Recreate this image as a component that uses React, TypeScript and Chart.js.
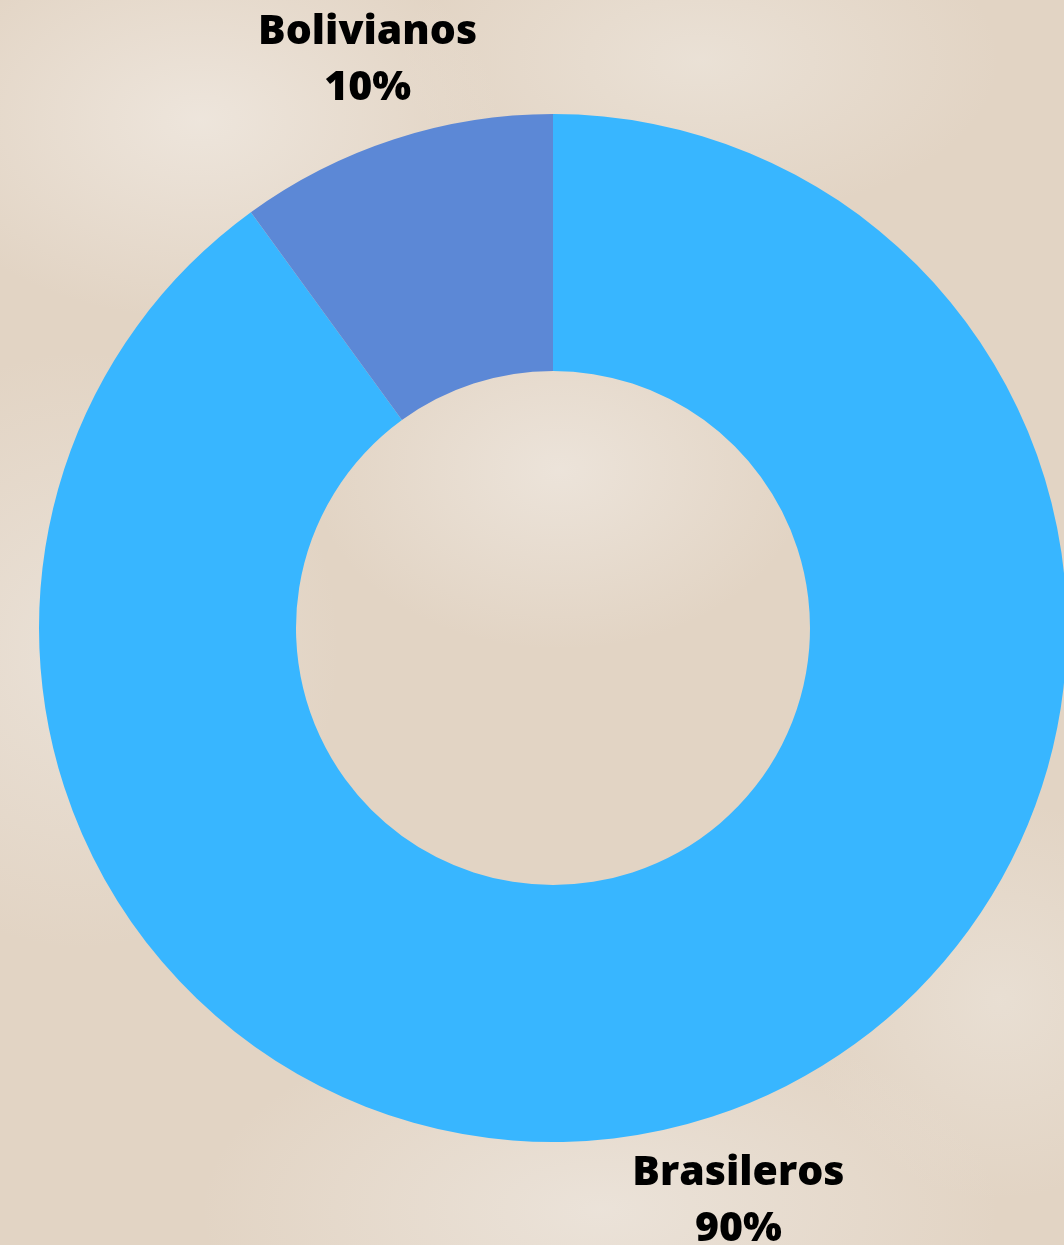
import React, { useEffect, useRef } from "react";
import { Chart, registerables } from "chart.js";

Chart.register(...registerables);

const categories = ["Brasileros", "Bolivianos"];
const values = [90, 10];
const valueLabels = ["90%", "10%"];
const sliceColors = ["#38B6FF", "#5C88D6"];

const labelPlugin = {
  id: "outerLabels",
  afterDatasetsDraw(chart: any) {
    const { ctx } = chart;
    const meta = chart.getDatasetMeta(0);
    ctx.save();
    ctx.font = "800 41px 'Open Sans', 'DejaVu Sans', sans-serif";
    ctx.fillStyle = "#000000";
    ctx.textAlign = "center";
    ctx.textBaseline = "middle";
    meta.data.forEach((arc: any, i: number) => {
      const mid = (arc.startAngle + arc.endAngle) / 2;
      const r = arc.outerRadius + 86;
      const x = arc.x + Math.cos(mid) * r;
      const y = arc.y + Math.sin(mid) * r;
      ctx.fillText(categories[i], x, y - 25);
      ctx.fillText(valueLabels[i], x, y + 31);
    });
    ctx.restore();
  },
};

export default function App() {
  const ref = useRef<HTMLCanvasElement | null>(null);
  useEffect(() => {
    if (!ref.current) return;
    const chart = new Chart(ref.current, {
      type: "doughnut",
      data: {
        labels: categories,
        datasets: [
          {
            data: values,
            backgroundColor: sliceColors,
            borderWidth: 0,
          },
        ],
      },
      options: {
        responsive: false,
        animation: false,
        cutout: "50%",
        layout: { padding: { left: 39, right: 43, top: 114, bottom: 103 } },
        plugins: { legend: { display: false }, tooltip: { enabled: false } },
      },
      plugins: [labelPlugin],
    });
    return () => chart.destroy();
  }, []);
  return (
    <div
      style={{
        position: "fixed",
        left: 0,
        top: 0,
        width: 1064,
        height: 1245,
        overflow: "hidden",
        backgroundColor: "#E2D4C4",
        backgroundImage:
          "radial-gradient(ellipse 300px 200px at 200px 120px, rgba(238,230,221,0.95), rgba(238,230,221,0) 100%)," +
          "radial-gradient(ellipse 260px 300px at 80px 650px, rgba(236,228,219,0.8), rgba(236,228,219,0) 100%)," +
          "radial-gradient(ellipse 250px 180px at 560px 470px, rgba(237,229,220,0.9), rgba(237,229,220,0) 100%)," +
          "radial-gradient(ellipse 300px 160px at 700px 60px, rgba(236,228,218,0.8), rgba(236,228,218,0) 100%)," +
          "radial-gradient(ellipse 400px 200px at 600px 1210px, rgba(236,228,219,0.9), rgba(236,228,219,0) 100%)," +
          "radial-gradient(ellipse 200px 200px at 1000px 1000px, rgba(235,227,217,0.7), rgba(235,227,217,0) 100%)",
      }}
    >
      <canvas ref={ref} width={1110} height={1245} style={{ display: "block" }} />
    </div>
  );
}
